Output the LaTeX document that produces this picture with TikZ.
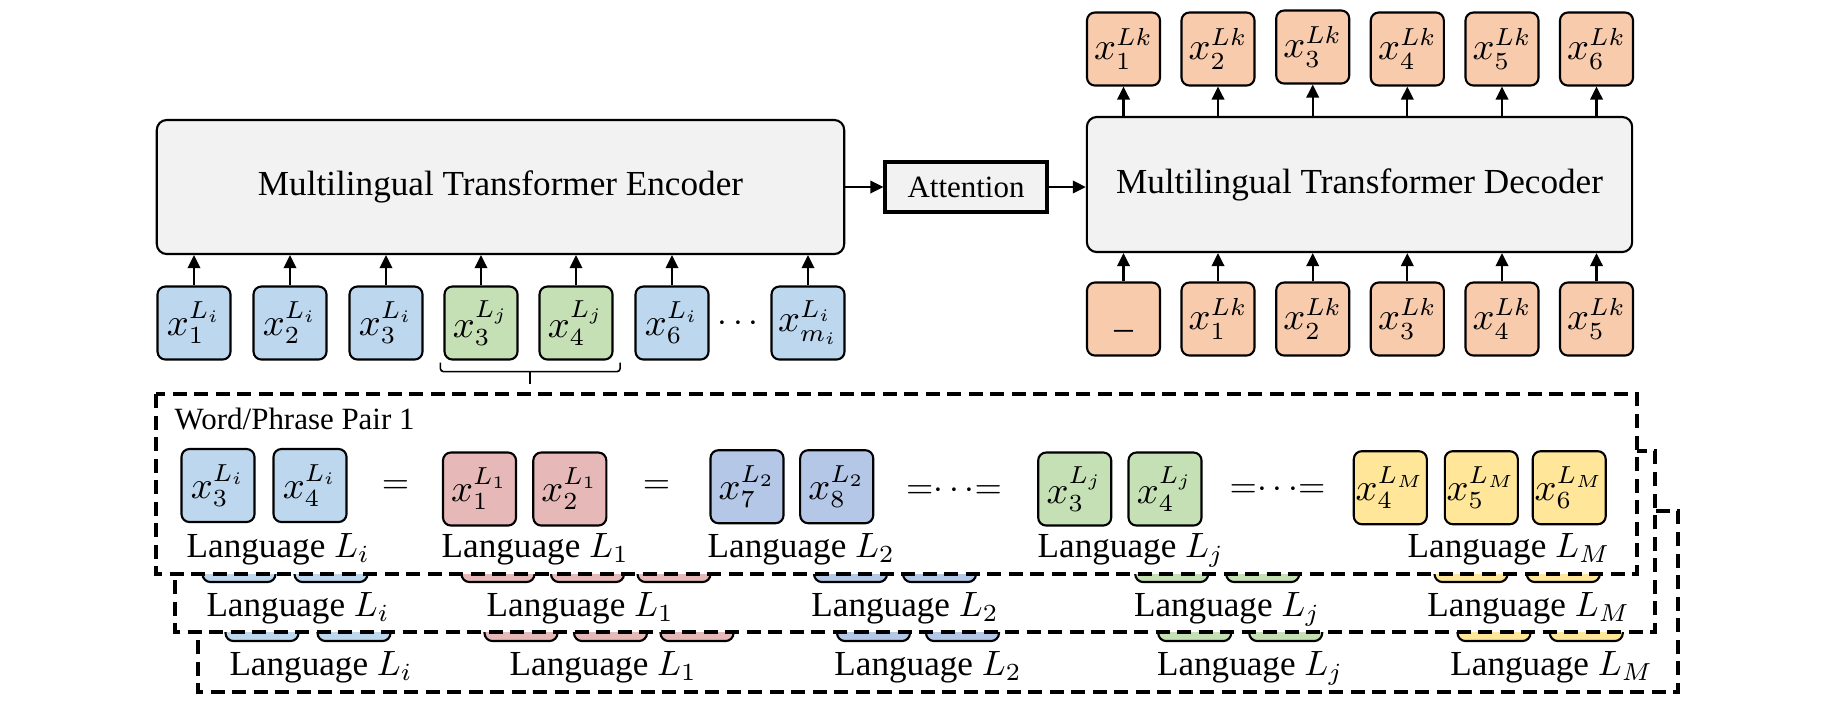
\documentclass[tikz,border=0pt]{standalone}
\usepackage{fontspec}
\setmainfont{Liberation Serif}
\usetikzlibrary{arrows.meta,calc}
\definecolor{tokblue}{HTML}{BDD7EE}
\definecolor{tokgreen}{HTML}{C5E0B4}
\definecolor{tokpeach}{HTML}{F8CBAD}
\definecolor{tokred}{HTML}{E6B9B8}
\definecolor{tokindigo}{HTML}{B4C7E7}
\definecolor{tokyellow}{HTML}{FFE699}
\definecolor{blockgray}{HTML}{F2F2F2}
\begin{document}
\begin{tikzpicture}[x=0.01cm,y=-0.01cm,
  tok/.style={draw,line width=0.6pt,rounded corners=0.08cm,minimum width=0.73cm,minimum height=0.73cm,inner sep=0pt,font=\fontsize{10.5}{12}\selectfont},
  blk/.style={draw,line width=0.6pt,rounded corners=0.1cm,fill=blockgray,inner sep=0pt},
  arr/.style={line width=0.6pt,-{Triangle[length=0.13cm,width=0.125cm]}},
  card/.style={draw,fill=white,line width=0.9pt,dash pattern=on 0.14cm off 0.075cm},
  lang/.style={anchor=base west,inner sep=0pt},
  small/.style={font=\fontsize{8.8}{10}\selectfont},
  brk/.style={line width=0.45pt,rounded corners=0.03cm}]
\useasboundingbox (0,0) rectangle (1834,702);
% encoder, attention, decoder
\node[blk,minimum width=6.87cm,minimum height=1.34cm] (enc) at (500.5,187) {Multilingual Transformer Encoder};
\node[draw,line width=0.9pt,fill=blockgray,minimum width=1.62cm,minimum height=0.5cm,inner sep=0pt,small] (att) at (966,187) {Attention};
\node[blk,minimum width=5.45cm,minimum height=1.35cm] (dec) at (1359.5,184.5) {Multilingual Transformer Decoder};
\draw[arr] (enc) -- (att);
\draw[arr] (att) -- (att -| dec.west);
% encoder inputs
\node[tok,fill=tokblue]  (ein1) at (194,323) {$x_1^{L_i}$};
\node[tok,fill=tokblue]  (ein2) at (290,323) {$x_2^{L_i}$};
\node[tok,fill=tokblue]  (ein3) at (386,323) {$x_3^{L_i}$};
\node[tok,fill=tokgreen] (ein4) at (481,323) {$x_3^{L_j}$};
\node[tok,fill=tokgreen] (ein5) at (576,323) {$x_4^{L_j}$};
\node[tok,fill=tokblue]  (ein6) at (672,323) {$x_6^{L_i}$};
\node (edots) at (738,324) {$\cdots$};
\node[tok,fill=tokblue]  (ein7) at (808,323) {$x_{m_i}^{L_i}$};
\draw[arr] (ein1) -- (ein1 |- enc.south);
\draw[arr] (ein2) -- (ein2 |- enc.south);
\draw[arr] (ein3) -- (ein3 |- enc.south);
\draw[arr] (ein4) -- (ein4 |- enc.south);
\draw[arr] (ein5) -- (ein5 |- enc.south);
\draw[arr] (ein6) -- (ein6 |- enc.south);
\draw[arr] (ein7) -- (ein7 |- enc.south);
\coordinate (brl) at ([xshift=-0.03cm,yshift=-0.02cm]ein4.south west);
\coordinate (brr) at ([xshift=0.065cm,yshift=-0.02cm]ein5.south east);
\draw[brk] (brl) -- ++(0,9) -- ([yshift=-0.09cm]brr) -- (brr);
\draw[brk] ($(brl)!0.5!(brr)+(0,9)$) -- ++(0,12);
% decoder inputs and outputs
\node[tok,fill=tokpeach] (din1) at (1123.5,319) {\strut\_};
\node[tok,fill=tokpeach] (din2) at (1218,319) {$x_1^{Lk}$};
\node[tok,fill=tokpeach] (din3) at (1312.7,319) {$x_2^{Lk}$};
\node[tok,fill=tokpeach] (din4) at (1407.3,319) {$x_3^{Lk}$};
\node[tok,fill=tokpeach] (din5) at (1502,319) {$x_4^{Lk}$};
\node[tok,fill=tokpeach] (din6) at (1596.5,319) {$x_5^{Lk}$};
\node[tok,fill=tokpeach] (dout1) at (1123.5,49) {$x_1^{Lk}$};
\node[tok,fill=tokpeach] (dout2) at (1218,49) {$x_2^{Lk}$};
\node[tok,fill=tokpeach] (dout3) at (1312.7,47) {$x_3^{Lk}$};
\node[tok,fill=tokpeach] (dout4) at (1407.3,49) {$x_4^{Lk}$};
\node[tok,fill=tokpeach] (dout5) at (1502,49) {$x_5^{Lk}$};
\node[tok,fill=tokpeach] (dout6) at (1596.5,49) {$x_6^{Lk}$};
\draw[arr] (din1) -- (din1 |- dec.south);
\draw[arr] (din2) -- (din2 |- dec.south);
\draw[arr] (din3) -- (din3 |- dec.south);
\draw[arr] (din4) -- (din4 |- dec.south);
\draw[arr] (din5) -- (din5 |- dec.south);
\draw[arr] (din6) -- (din6 |- dec.south);
\draw[arr] (dout1 |- dec.north) -- (dout1);
\draw[arr] (dout2 |- dec.north) -- (dout2);
\draw[arr] (dout3 |- dec.north) -- (dout3);
\draw[arr] (dout4 |- dec.north) -- (dout4);
\draw[arr] (dout5 |- dec.north) -- (dout5);
\draw[arr] (dout6 |- dec.north) -- (dout6);
% third pair (back)
\draw[card] (198,511) rectangle (1678,692);
\begin{scope}[shift={(23,59)}]
\node[tok,fill=tokblue]   (ci1) at (239,545.5) {};
\node[tok,fill=tokblue]   (ci2) at (331,545.5) {};
\node[tok,fill=tokred]    (ca1) at (498,545.5) {};
\node[tok,fill=tokred]    (ca2) at (587.5,545.5) {};
\node[tok,fill=tokred]    (ca3) at (674,545.5) {};
\node[tok,fill=tokindigo] (cb1) at (850.5,545.5) {};
\node[tok,fill=tokindigo] (cb2) at (939.5,545.5) {};
\node[tok,fill=tokgreen]  (cj1) at (1171.7,545.5) {};
\node[tok,fill=tokgreen]  (cj2) at (1262.7,545.5) {};
\node[tok,fill=tokyellow] (cm1) at (1471,545.5) {};
\node[tok,fill=tokyellow] (cm2) at (1563.3,545.5) {};
\node[lang] (cli) at (205.8,616) {Language $L_i$};
\node[lang] (cla) at (486,616) {Language $L_1$};
\node[lang] (clb) at (810.7,616) {Language $L_2$};
\node[lang] (clj) at (1133.3,616) {Language $L_j$};
\node[lang] (clm) at (1426.7,616) {Language $L_M$};
\end{scope}
% second pair
\draw[card] (175,451) rectangle (1655,632);
\node[tok,fill=tokblue]   (bi1) at (239,545.5) {};
\node[tok,fill=tokblue]   (bi2) at (331,545.5) {};
\node[tok,fill=tokred]    (ba1) at (498,545.5) {};
\node[tok,fill=tokred]    (ba2) at (587.5,545.5) {};
\node[tok,fill=tokred]    (ba3) at (674,545.5) {};
\node[tok,fill=tokindigo] (bb1) at (850.5,545.5) {};
\node[tok,fill=tokindigo] (bb2) at (939.5,545.5) {};
\node[tok,fill=tokgreen]  (bj1) at (1171.7,545.5) {};
\node[tok,fill=tokgreen]  (bj2) at (1262.7,545.5) {};
\node[tok,fill=tokyellow] (bm1) at (1471,545.5) {};
\node[tok,fill=tokyellow] (bm2) at (1563.3,545.5) {};
\node[lang] (bli) at (205.8,616) {Language $L_i$};
\node[lang] (bla) at (486,616) {Language $L_1$};
\node[lang] (blb) at (810.7,616) {Language $L_2$};
\node[lang] (blj) at (1133.3,616) {Language $L_j$};
\node[lang] (blm) at (1426.7,616) {Language $L_M$};
% first pair (front)
\draw[card] (156,394) rectangle (1637,574);
\node[anchor=west,inner sep=0pt,small] (pair) at (174,419) {Word/Phrase Pair 1};
\node[tok,fill=tokblue]   (ai1) at (218,485.5) {$x_3^{L_i}$};
\node[tok,fill=tokblue]   (ai2) at (310,485.5) {$x_4^{L_i}$};
\node (aeq1) at (395.6,487) {$=$};
\node[tok,fill=tokred]    (aa1) at (479.5,489) {$x_1^{L_1}$};
\node[tok,fill=tokred]    (aa2) at (569.8,489) {$x_2^{L_1}$};
\node (aeq2) at (656.6,487) {$=$};
\node[tok,fill=tokindigo] (ab1) at (747,486.7) {$x_7^{L_2}$};
\node[tok,fill=tokindigo] (ab2) at (836.7,486.7) {$x_8^{L_2}$};
\node (aeq3) at (954,490.7) {${=}{\cdots}{=}$};
\node[tok,fill=tokgreen]  (aj1) at (1074.7,489) {$x_3^{L_j}$};
\node[tok,fill=tokgreen]  (aj2) at (1165,489) {$x_4^{L_j}$};
\node (aeq4) at (1277.5,490) {${=}{\cdots}{=}$};
\node[tok,fill=tokyellow] (am1) at (1390.3,487.7) {$x_4^{L_M}$};
\node[tok,fill=tokyellow] (am2) at (1481.3,487.7) {$x_5^{L_M}$};
\node[tok,fill=tokyellow] (am3) at (1569.2,487.7) {$x_6^{L_M}$};
\node[lang] (ali) at (186,557) {Language $L_i$};
\node[lang] (ala) at (441,557) {Language $L_1$};
\node[lang] (alb) at (707,557) {Language $L_2$};
\node[lang] (alj) at (1037,557) {Language $L_j$};
\node[lang] (alm) at (1407,557) {Language $L_M$};
\end{tikzpicture}
\end{document}
